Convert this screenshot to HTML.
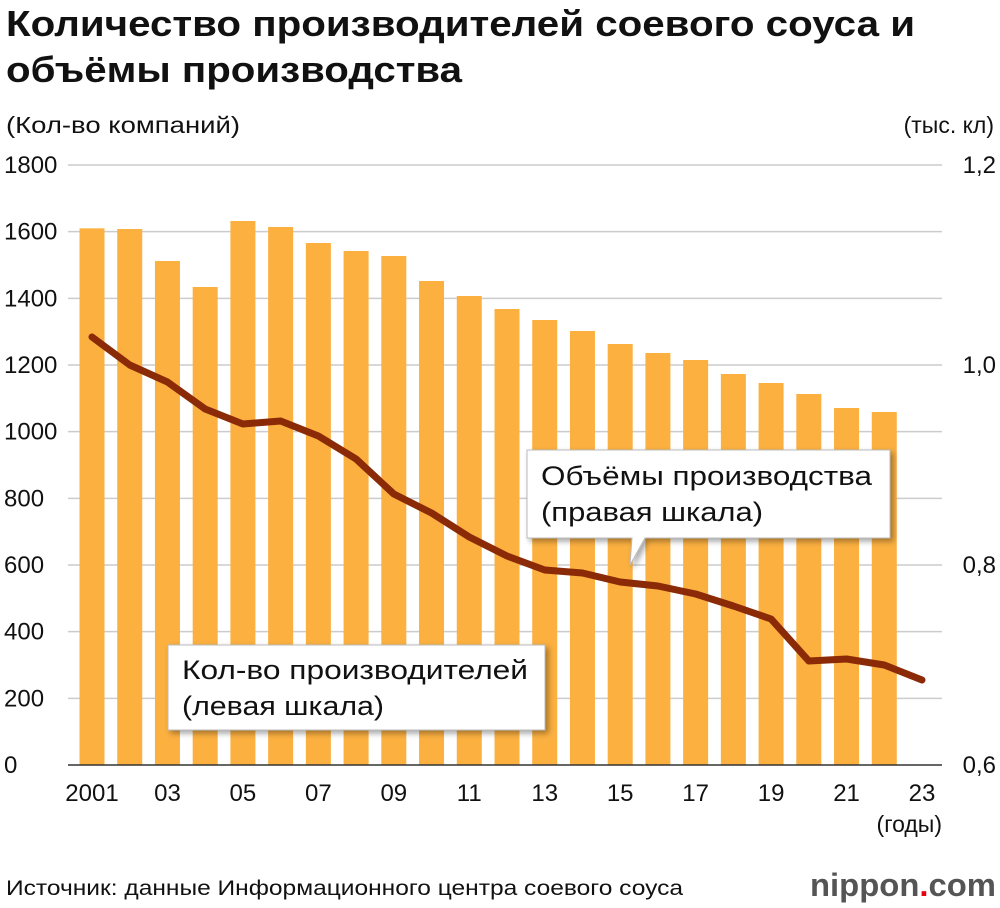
<!DOCTYPE html>
<html><head><meta charset="utf-8"><style>
body{margin:0;background:#fff;}
svg{display:block;font-family:"Liberation Sans","DejaVu Sans",sans-serif;}
</style></head><body>
<svg id="chart" width="1000" height="908" viewBox="0 0 1000 908">
<defs><filter id="sh" x="-10%" y="-10%" width="130%" height="140%"><feDropShadow dx="3" dy="3" stdDeviation="3" flood-color="#000" flood-opacity="0.35"/></filter></defs>
<text x="6" y="36" font-size="36" font-weight="bold" fill="#111" textLength="909" lengthAdjust="spacingAndGlyphs">Количество производителей соевого соуса и</text>
<text x="6" y="82" font-size="36" font-weight="bold" fill="#111" textLength="456" lengthAdjust="spacingAndGlyphs">объёмы производства</text>
<text x="6" y="133" font-size="23" fill="#111" textLength="234" lengthAdjust="spacingAndGlyphs">(Кол-во компаний)</text>
<text x="994" y="133" font-size="23" fill="#111" text-anchor="end">(тыс. кл)</text>
<g id="grid"></g><g id="bars"></g><g id="line"></g><g id="axes"></g>
<text x="942" y="832" font-size="23" fill="#111" text-anchor="end">(годы)</text>
<g filter="url(#sh)">
<path d="M527,450 H890 V538 H645 L630,565 L632,538 H527 Z" fill="#fff" stroke="#bbb" stroke-width="1"/>
</g>
<text x="541" y="485" font-size="27" fill="#111" textLength="331" lengthAdjust="spacingAndGlyphs">Объёмы производства</text>
<text x="541" y="521" font-size="27" fill="#111" textLength="222" lengthAdjust="spacingAndGlyphs">(правая шкала)</text>
<g filter="url(#sh)">
<rect x="168" y="645" width="377" height="85" fill="#fff" stroke="#bbb" stroke-width="1"/>
</g>
<text x="182" y="679" font-size="27" fill="#111" textLength="346" lengthAdjust="spacingAndGlyphs">Кол-во производителей</text>
<text x="182" y="715" font-size="27" fill="#111" textLength="202" lengthAdjust="spacingAndGlyphs">(левая шкала)</text>
<text x="6" y="895" font-size="21" fill="#111" textLength="677" lengthAdjust="spacingAndGlyphs">Источник: данные Информационного центра соевого соуса</text>
<text x="996" y="896" font-size="32" fill="#555" text-anchor="end" font-weight="bold" textLength="186" lengthAdjust="spacingAndGlyphs">nippon<tspan fill="#e60012">.</tspan>com</text>
</svg>
<script>
const years=[2001,2002,2003,2004,2005,2006,2007,2008,2009,2010,2011,2012,2013,2014,2015,2016,2017,2018,2019,2020,2021,2022,2023];
const producers=[1610,1608,1512,1434,1632,1614,1566,1542,1527,1452,1407,1368,1335,1302,1263,1236,1215,1173,1146,1113,1071,1059];
const volume=[1.028,1.000,0.983,0.956,0.941,0.944,0.929,0.906,0.871,0.852,0.828,0.809,0.795,0.792,0.783,0.779,0.771,0.759,0.746,0.704,0.706,0.700,0.685];
const leftTicks=[0,200,400,600,800,1000,1200,1400,1600,1800];
const rightTicks=["0,6","0,8","1,0","1,2"];
const rightTickVals=[0.6,0.8,1.0,1.2];
const xLabels=["2001","03","05","07","09","11","13","15","17","19","21","23"];
const NS="http://www.w3.org/2000/svg";
const y0=765,y1=165;
const yL=v=>y0-(v/1800)*(y0-y1);
const yR=v=>y0-((v-0.6)/0.6)*(y0-y1);
const xS=y=>92+(y-2001)*(922-92)/22;
function mk(tag,attrs,parent){const e=document.createElementNS(NS,tag);for(const k in attrs)e.setAttribute(k,attrs[k]);document.getElementById(parent).appendChild(e);return e;}
leftTicks.forEach(t=>{
 if(t>0){const g=mk('line',{x1:68,x2:942,y1:yL(t),y2:yL(t),stroke:'#ccc','stroke-width':1.5},'grid');
 
 }
 const l=mk('text',{x:4,y:yL(t)+8,'font-size':24,fill:'#111'},'axes');l.textContent=t;
 
 
});
rightTickVals.forEach((v,i)=>{
 const l=mk('text',{x:996,y:yR(v)+8,'font-size':24,fill:'#111','text-anchor':'end'},'axes');l.textContent=rightTicks[i];
 
 
});
producers.forEach((v,i)=>{
 const x=xS(years[i]);
 const r=mk('rect',{x:x-12.5,y:yL(v),width:25,height:y0-yL(v),fill:'#fbb040'},'bars');
 
 
});
const ax=mk('line',{x1:68,x2:942,y1:y0,y2:y0,stroke:'#333','stroke-width':1.5},'axes');


xLabels.forEach((s,i)=>{
 const yr=2001+i*2;
 const l=mk('text',{x:xS(yr),y:801,'font-size':24,fill:'#111','text-anchor':'middle'},'axes');l.textContent=s;
 
 
});
const p=mk('polyline',{points:volume.map((v,i)=>xS(years[i])+','+yR(v)).join(' '),fill:'none',stroke:'#8b2a06','stroke-width':7,'stroke-linejoin':'round','stroke-linecap':'round'},'line');


</script>
</body></html>
